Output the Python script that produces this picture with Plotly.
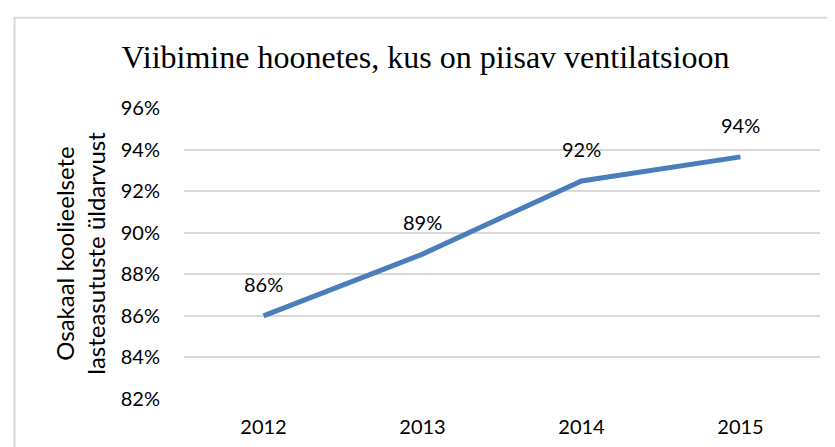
import plotly.graph_objects as go

years = ["2012", "2013", "2014", "2015"]
shares = [0.860, 0.8897, 0.9249, 0.9365]
y_ticks = [0.82, 0.84, 0.86, 0.88, 0.90, 0.92, 0.94, 0.96]
title_text = "Viibimine hoonetes, kus on piisav ventilatsioon"
y_title = "Osakaal koolieelsete<br>lasteasutuste üldarvust"

sans = "Lato, Carlito, Calibri, sans-serif"
label_font = dict(family=sans, size=20, color="#000000")

fig = go.Figure()
fig.add_trace(go.Scatter(
    x=years, y=shares, mode="lines",
    line=dict(color="#4a7ebb", width=5),
    hoverinfo="skip", showlegend=False,
))
for i, yv in enumerate(shares):
    fig.add_annotation(x=i, y=yv, xref="x", yref="y", text=f"{round(yv*100):.0f}%",
                       showarrow=False, yshift=32, font=label_font)

fig.update_layout(
    width=835, height=447,
    margin=dict(l=176, r=23, t=100, b=56, autoexpand=False),
    paper_bgcolor="white", plot_bgcolor="white",
    title=dict(text=title_text, x=0.5, xanchor="center", xref="container",
               y=1 - 49 / 447, yanchor="middle", yref="container",
               font=dict(family="Liberation Serif, Times New Roman, serif", size=32, color="#000000")),
    xaxis=dict(type="category", showgrid=False, zeroline=False, showline=False,
               ticks="", tickfont=label_font, range=[-0.5, 3.5], automargin=False,
               ticklabelstandoff=14),
    yaxis=dict(range=[0.82, 0.96], tickvals=y_ticks, tickformat=".0%",
               showgrid=True, gridcolor="#d9d9d9", gridwidth=1.5, zeroline=False,
               showline=False, ticks="", tickfont=label_font, ticklabelstandoff=23,
               automargin=False,
               title=dict(text=y_title, font=dict(family=sans, size=24, color="#000000"),
                          standoff=8)),
)
fig.add_shape(type="rect", xref="paper", yref="paper", x0=-0.2665, x1=1.2, y0=-0.5, y1=1.31,
              line=dict(color="#d9d9d9", width=2), fillcolor="rgba(0,0,0,0)", layer="below")
fig.write_html("out.html")
